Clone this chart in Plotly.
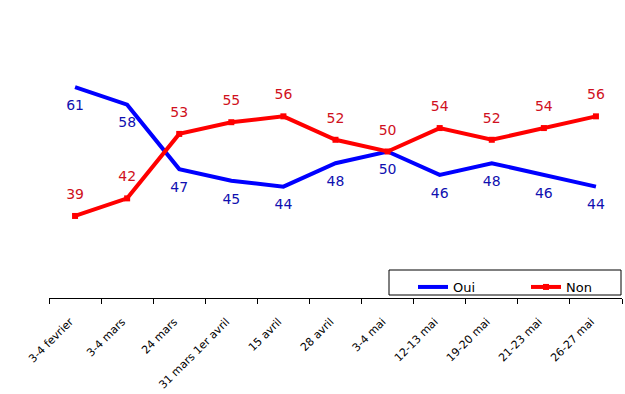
import plotly.graph_objects as go

categories = ["3-4 fevrier", "3-4 mars", "24 mars", "31 mars 1er avril", "15 avril",
              "28 avril", "3-4 mai", "12-13 mai", "19-20 mai", "21-23 mai", "26-27 mai"]
oui = [61, 58, 47, 45, 44, 48, 50, 46, 48, 46, 44]
non = [39, 42, 53, 55, 56, 52, 50, 54, 52, 54, 56]

fig = go.Figure()
fig.add_trace(go.Scatter(
    x=categories, y=oui, name="Oui", mode="lines",
    line=dict(color="#0000FF", width=4),
))
fig.add_trace(go.Scatter(
    x=categories, y=non, name="Non", mode="lines+markers",
    line=dict(color="#FF0000", width=4),
    marker=dict(symbol="square", size=6, color="#FF0000"),
))
# data labels
fig.add_trace(go.Scatter(
    x=categories, y=oui, mode="markers+text", showlegend=False, hoverinfo="skip",
    marker=dict(size=18, opacity=0),
    text=[str(v) for v in oui], textposition="bottom center",
    textfont=dict(family="DejaVu Sans", size=14, color="#1010B0"),
    cliponaxis=False,
))
fig.add_trace(go.Scatter(
    x=categories, y=non, mode="markers+text", showlegend=False, hoverinfo="skip",
    marker=dict(size=20, opacity=0),
    text=[str(v) for v in non], textposition="top center",
    textfont=dict(family="DejaVu Sans", size=14, color="#D01020"),
    cliponaxis=False,
))

fig.update_layout(
    width=625, height=394,
    margin=dict(l=49, r=3, t=5, b=96, autoexpand=False),
    paper_bgcolor="white", plot_bgcolor="white",
    showlegend=True,
    legend=dict(orientation="h", x=(413 - 49) / 573, y=(298 - 272) / 293,
                xanchor="left", yanchor="top",
                bgcolor="rgba(0,0,0,0)", borderwidth=0,
                font=dict(family="DejaVu Sans", size=13, color="black"),
                entrywidth=68, entrywidthmode="pixels",
                itemwidth=30, tracegroupgap=0),
    xaxis=dict(type="category", range=[-0.5, 10.5], showline=True, linecolor="black",
               linewidth=1, ticks="outside", tickson="boundaries", ticklen=5,
               tickcolor="black", tickangle=-45, showgrid=False, zeroline=False,
               automargin=False, ticklabelstandoff=12, ticklabelshift=-5,
               tickfont=dict(family="DejaVu Sans", size=11, color="black")),
    yaxis=dict(range=[25, 75], visible=False, showgrid=False, zeroline=False,
               automargin=False),
    shapes=[dict(type="rect", xref="paper", yref="paper",
                 x0=(389 - 49) / 573, x1=(621 - 49) / 573,
                 y0=(298 - 295) / 293, y1=(298 - 270) / 293,
                 line=dict(color="black", width=1))],
)

fig.write_html("out.html", config={"displayModeBar": False},
               post_script="document.body.style.margin='0';document.body.style.overflow='hidden';")
